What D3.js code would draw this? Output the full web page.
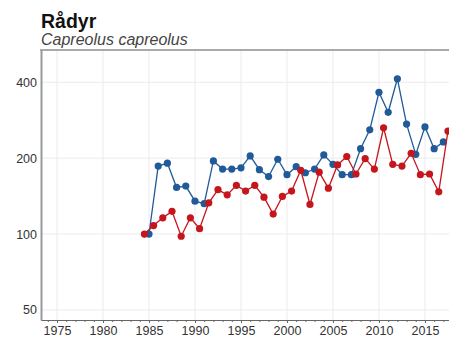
<!DOCTYPE html>
<html lang="no">
<head>
<meta charset="utf-8">
<title>Rådyr</title>
<script src="https://cdn.jsdelivr.net/npm/d3@7"></script>
<style>
  body { margin: 0; background: #fff; }
  svg { display: block; font-family: "Liberation Sans", Arial, sans-serif; }
  .grid line { stroke: #ebebeb; stroke-width: 1; }
  .tick text { fill: #333; font-size: 12.5px; }
</style>
</head>
<body>
<script>
var w = 449, h = 340;

// blue series, one value per year
var blueYears = [1985, 1986, 1987, 1988, 1989, 1990, 1991, 1992, 1993, 1994, 1995, 1996,
  1997, 1998, 1999, 2000, 2001, 2002, 2003, 2004, 2005, 2006, 2007, 2008, 2009, 2010,
  2011, 2012, 2013, 2014, 2015, 2016, 2017];
var blueValues = [100, 186, 191, 153, 155, 135, 132, 195, 181, 181, 183, 204,
  180, 169, 198, 172, 185, 175, 181, 206, 189, 172, 172, 218, 259, 365,
  304, 413, 273, 207, 266, 218, 232];

// red series, plotted half a year in
var redYears = [1984, 1985, 1986, 1987, 1988, 1989, 1990, 1991, 1992, 1993, 1994, 1995,
  1996, 1997, 1998, 1999, 2000, 2001, 2002, 2003, 2004, 2005, 2006, 2007, 2008, 2009,
  2010, 2011, 2012, 2013, 2014, 2015, 2016, 2017];
var redValues = [100, 108, 116, 123, 98, 116, 105, 133, 150, 143, 156, 148,
  156, 140, 120, 141, 148, 179, 131, 176, 152, 188, 203, 173, 199, 181,
  264, 189, 186, 209, 172, 173, 147, 256];

var xTicks = [1975, 1980, 1985, 1990, 1995, 2000, 2005, 2010, 2015];
var yTicks = [50, 100, 200, 400];

var mLeft = 41, mTop = 50, mBottom = 320;

var x = d3.scaleLinear().domain([1973.26, 2018.7]).range([mLeft, 459]);
var y = d3.scaleLog().domain([45.6, 537]).range([mBottom, mTop]);

var svg = d3.select("body").append("svg")
  .attr("width", w)
  .attr("height", h);

// title
svg.append("text")
  .attr("x", 41).attr("y", 28)
  .attr("font-size", 19.5).attr("font-weight", "bold").attr("fill", "#111")
  .text("Rådyr");
svg.append("text")
  .attr("x", 41).attr("y", 45)
  .attr("font-size", 16).attr("font-style", "italic").attr("fill", "#444")
  .text("Capreolus capreolus");

// grid
var grid = svg.append("g").attr("class", "grid");
grid.selectAll(".vx").data(xTicks).enter().append("line")
  .attr("x1", function(d) { return x(d); }).attr("x2", function(d) { return x(d); })
  .attr("y1", mTop).attr("y2", mBottom);
grid.selectAll(".hy").data(yTicks).enter().append("line")
  .attr("x1", mLeft).attr("x2", w)
  .attr("y1", function(d) { return y(d); }).attr("y2", function(d) { return y(d); });

// top border
svg.append("line")
  .attr("x1", mLeft - 1).attr("x2", w)
  .attr("y1", mTop).attr("y2", mTop)
  .attr("stroke", "#aaa").attr("stroke-width", 2);

// axes
var yAxis = svg.append("g")
  .attr("transform", "translate(" + mLeft + ",0)")
  .call(d3.axisLeft(y).tickValues(yTicks).tickFormat(d3.format("d")).tickSize(0).tickPadding(4));
yAxis.select(".domain").attr("stroke", "#999").attr("stroke-width", 2);

var minor = d3.range(1974, 2019);
svg.append("g")
  .attr("transform", "translate(0," + mBottom + ")")
  .call(d3.axisBottom(x).tickValues(minor).tickFormat("").tickSize(2))
  .call(function(g) { g.select(".domain").remove(); })
  .selectAll("line").attr("stroke", "#666");

var xAxis = svg.append("g")
  .attr("transform", "translate(0," + mBottom + ")")
  .call(d3.axisBottom(x).tickValues(xTicks).tickFormat(d3.format("d")).tickSize(3).tickPadding(3).tickSizeOuter(0));
xAxis.select(".domain").attr("stroke", "#666");
xAxis.selectAll(".tick line").attr("stroke", "#666");

// series
function drawSeries(years, values, shift, color) {
  var pts = years.map(function(yr, i) { return [yr + shift, values[i]]; });
  var line = d3.line()
    .x(function(d) { return x(d[0]); })
    .y(function(d) { return y(d[1]); });
  svg.append("path")
    .datum(pts)
    .attr("fill", "none")
    .attr("stroke", color)
    .attr("stroke-width", 1.3)
    .attr("d", line);
  svg.append("g").selectAll("circle")
    .data(pts).enter().append("circle")
    .attr("cx", function(d) { return x(d[0]); })
    .attr("cy", function(d) { return y(d[1]); })
    .attr("r", 3.6)
    .attr("fill", color);
}

drawSeries(blueYears, blueValues, 0, "#215a99");
drawSeries(redYears, redValues, 0.5, "#c5161d");
</script>
</body>
</html>
